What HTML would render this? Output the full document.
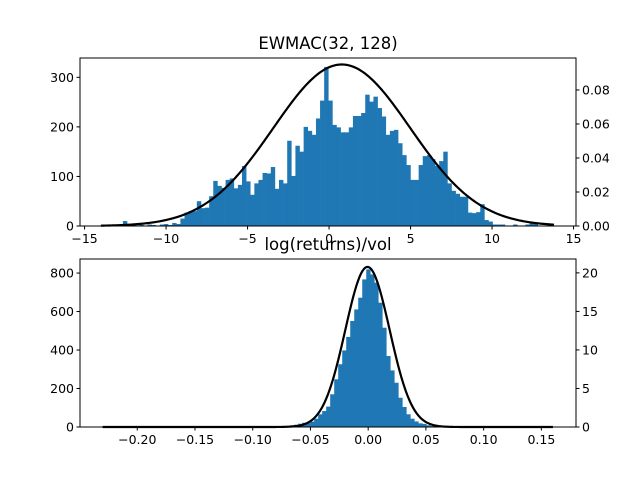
<!DOCTYPE html>
<html><head><meta charset="utf-8"><style>
body{margin:0;background:#fff;}
svg{display:block;font-family:"DejaVu Sans","Liberation Sans",sans-serif;}
</style></head><body>
<svg id="fig" width="640" height="480" viewBox="0 0 640 480" xmlns="http://www.w3.org/2000/svg"></svg>
<script>
// ---- Top chart data (EWMAC) ----
const topBinStart = -12.9;
const topBinWidth = 0.252;
const topCounts = [2,10,0,1,0,2,0,3,2,1,3,4,2,6,4,
 15,27,30,30,50,36,37,60,91,81,77,93,96,76,83,121,90,63,86,93,107,106,119,75,93,86,172,101,162,150,200,192,184,217,253,
 321,253,204,199,189,189,199,222,222,228,265,251,261,238,221,184,192,194,167,143,123,93,93,123,141,143,135,121,131,150,86,71,65,59,59,27,26,28,44,12,9,3,3,3,1,1,3,1,1,3,5,5];
const topMean = 0.78, topSigma = 4.2, topCurveRange = [-14.0, 13.8];
const topXTicks = [-15,-10,-5,0,5,10,15];
const topYTicks = [0,100,200,300];
const topY2Ticks = [0,0.02,0.04,0.06,0.08];
const topY2Labels = ["0.00","0.02","0.04","0.06","0.08"];

// ---- Bottom chart data (log returns / vol) ----
const botBinStart = -0.0676;
const botBinWidth = 0.00347;
const botCounts = [9,12,17,22,20,28,43,66,83,106,170,248,326,398,468,551,611,672,767,819,793,750,646,516,369,294,230,152,104,66,43,29,19,16,9,5];
const botMean = -0.0006, botSigma = 0.0192, botCurveRange = [-0.23, 0.16];
const botXTicks = [-0.20,-0.15,-0.10,-0.05,0,0.05,0.10,0.15];
const botXLabels = ["\u22120.20","\u22120.15","\u22120.10","\u22120.05","0.00","0.05","0.10","0.15"];
const botYTicks = [0,200,400,600,800];
const botY2Ticks = [0,5,10,15,20];

const NS = "http://www.w3.org/2000/svg";
const svg = document.getElementById('fig');
function mk(tag, attrs, parent){const e=document.createElementNS(NS,tag);for(const k in attrs)e.setAttribute(k,attrs[k]);(parent||svg).appendChild(e);return e;}
function fmt(v){return v<0?"\u2212"+Math.abs(v):String(v);}
function pdf(x,m,s){return Math.exp(-0.5*((x-m)/s)**2)/(s*Math.sqrt(2*Math.PI));}

function panel(o){
  const {left,right,top,bottom,xmin,xmax,ymax,y2max} = o;
  const g = mk('g',{});
  
  
  const X = v => left + (v-xmin)/(xmax-xmin)*(right-left);
  const Y = v => bottom - v/ymax*(bottom-top);
  const Y2 = v => bottom - v/y2max*(bottom-top);
  o.counts.forEach((c,i)=>{
    if(c<=0) return;
    const x0 = X(o.binStart + i*o.binWidth), x1 = X(o.binStart + (i+1)*o.binWidth);
    const r = mk('rect',{x:x0,y:Y(c),width:x1-x0+0.3,height:bottom-Y(c),fill:'#1f77b4'},g);
    
    
  });
  let d='';
  const n=300;
  for(let i=0;i<=n;i++){const xv=o.cr[0]+(o.cr[1]-o.cr[0])*i/n;d+=(i?'L':'M')+X(xv).toFixed(2)+','+Y2(pdf(xv,o.mean,o.sigma)).toFixed(2);}
  const p = mk('path',{d:d,fill:'none',stroke:'#000','stroke-width':2.2},g);
  
  
  const f = mk('rect',{x:left,y:top,width:right-left,height:bottom-top,fill:'none',stroke:'#000','stroke-width':1},g);
  
  
  o.xticks.forEach((v,i)=>{
    const x=X(v);
    mk('line',{x1:x,x2:x,y1:bottom,y2:bottom+3.5,stroke:'#000'},g);
    const t=mk('text',{x:x,y:bottom+17,'font-size':12.5,'text-anchor':'middle'},g);
    t.textContent = o.xlabels ? o.xlabels[i] : fmt(v);
    
    
  });
  o.yticks.forEach(v=>{
    const y=Y(v);
    mk('line',{x1:left-3.5,x2:left,y1:y,y2:y,stroke:'#000'},g);
    const t=mk('text',{x:left-6,y:y+4.5,'font-size':12.5,'text-anchor':'end'},g);
    t.textContent = fmt(v);
    
    
  });
  o.y2ticks.forEach((v,i)=>{
    const y=Y2(v);
    mk('line',{x1:right,x2:right+3.5,y1:y,y2:y,stroke:'#000'},g);
    const t=mk('text',{x:right+6,y:y+4.5,'font-size':12.5,'text-anchor':'start'},g);
    t.textContent = o.y2labels ? o.y2labels[i] : fmt(v);
    
    
  });
  const tt=mk('text',{x:(left+right)/2,y:top-9,'font-size':16.5,'text-anchor':'middle'},g);
  tt.textContent=o.title;
  
  
}

panel({name:'ewmac-histogram',left:80,right:576,top:58,bottom:226,xmin:-15.28,xmax:15.15,ymax:339,y2max:0.0988,
  counts:topCounts,binStart:topBinStart,binWidth:topBinWidth,mean:topMean,sigma:topSigma,cr:topCurveRange,
  xticks:topXTicks,yticks:topYTicks,y2ticks:topY2Ticks,y2labels:topY2Labels,title:'EWMAC(32, 128)'});
panel({name:'log-returns-histogram',left:80,right:576,top:259,bottom:427,xmin:-0.2496,xmax:0.180,ymax:873,y2max:21.8,
  counts:botCounts,binStart:botBinStart,binWidth:botBinWidth,mean:botMean,sigma:botSigma,cr:botCurveRange,
  xticks:botXTicks,xlabels:botXLabels,yticks:botYTicks,y2ticks:botY2Ticks,title:'log(returns)/vol'});
</script>
</body></html>
